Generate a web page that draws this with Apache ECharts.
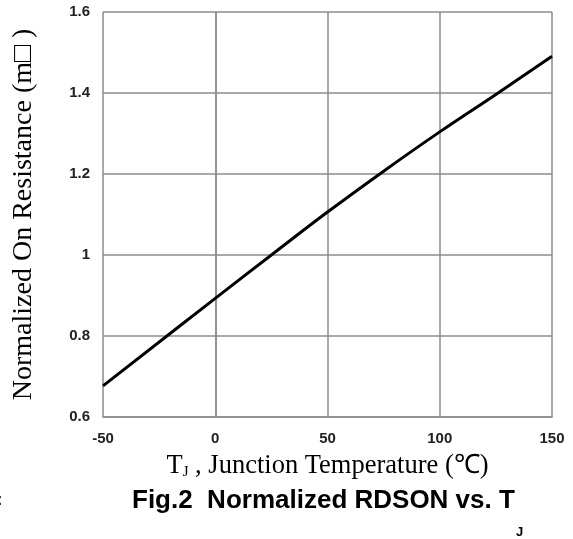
<!DOCTYPE html>
<html>
<head>
<meta charset="utf-8">
<script src="https://cdn.jsdelivr.net/npm/echarts@6/dist/echarts.min.js"></script>
<style>
html,body{margin:0;padding:0;background:#fff;}
#chart{width:573px;height:539px;}
</style>
</head>
<body>
<div id="chart"></div>
<script>
// Data
const temperatures = [-50, 0, 25, 50, 75, 100, 126, 150];
const normalizedRdson = [0.677, 0.893, 1.0, 1.106, 1.207, 1.304, 1.4, 1.491];
const xTicks = [-50, 0, 50, 100, 150];
const yTicks = [0.6, 0.8, 1, 1.2, 1.4, 1.6];

const seriesData = temperatures.map((t, i) => [t, normalizedRdson[i]]);

const chart = echarts.init(document.getElementById('chart'));
chart.setOption({
  backgroundColor: '#ffffff',
  animation: false,
  title: {
    text: 'Fig.2  Normalized RDSON vs. T',
    left: 127,
    top: 483,
    textStyle: {
      fontFamily: 'Liberation Sans',
      fontWeight: 'bold',
      fontSize: 26,
      color: '#000'
    }
  },
  graphic: [
    {
      type: 'text',
      left: 516,
      top: 526,
      style: { text: 'J', font: 'bold 13px "Liberation Sans"', fill: '#000' }
    },
    {
      type: 'text',
      left: -3,
      top: 493,
      style: { text: ':', font: 'bold 16px "Liberation Sans"', fill: '#000' }
    }
  ],
  grid: {
    left: 103,
    right: 21,
    top: 12,
    height: 405,
    containLabel: false
  },
  xAxis: {
    type: 'value',
    min: xTicks[0],
    max: xTicks[xTicks.length - 1],
    interval: 50,
    name: '{t|T}{s|J}{t| , Junction Temperature (℃)}',
    nameLocation: 'middle',
    nameGap: 35,
    nameTextStyle: {
      rich: {
        t: { fontFamily: 'Liberation Serif', fontSize: 26.5, color: '#000', lineHeight: 28 },
        s: { fontFamily: 'Liberation Serif', fontSize: 15, color: '#000', lineHeight: 22, verticalAlign: 'bottom' }
      }
    },
    axisLine: { show: true, lineStyle: { color: '#8c8c8c', width: 1.5 } },
    axisTick: { show: false },
    axisLabel: {
      margin: 14,
      fontFamily: 'Liberation Sans',
      fontWeight: 'bold',
      fontSize: 15,
      color: '#222'
    },
    splitLine: { show: true, lineStyle: { color: '#8c8c8c', width: 1.5 } }
  },
  yAxis: {
    type: 'value',
    min: yTicks[0],
    max: yTicks[yTicks.length - 1],
    interval: 0.2,
    name: 'Normalized On Resistance (m□ )',
    nameLocation: 'middle',
    nameGap: 65,
    nameTextStyle: {
      fontFamily: 'Liberation Serif',
      fontSize: 28,
      color: '#000'
    },
    axisLine: { show: true, lineStyle: { color: '#8c8c8c', width: 1.5 } },
    axisTick: { show: false },
    axisLabel: {
      margin: 13,
      fontFamily: 'Liberation Sans',
      fontWeight: 'bold',
      fontSize: 15,
      color: '#222',
      formatter: v => String(Math.round(v * 10) / 10)
    },
    splitLine: { show: true, lineStyle: { color: '#8c8c8c', width: 1.5 } }
  },
  series: [{
    type: 'line',
    data: seriesData,
    showSymbol: false,
    smooth: 0.4,
    lineStyle: { color: '#000', width: 3 },
    clip: true
  }]
});
</script>
</body>
</html>
